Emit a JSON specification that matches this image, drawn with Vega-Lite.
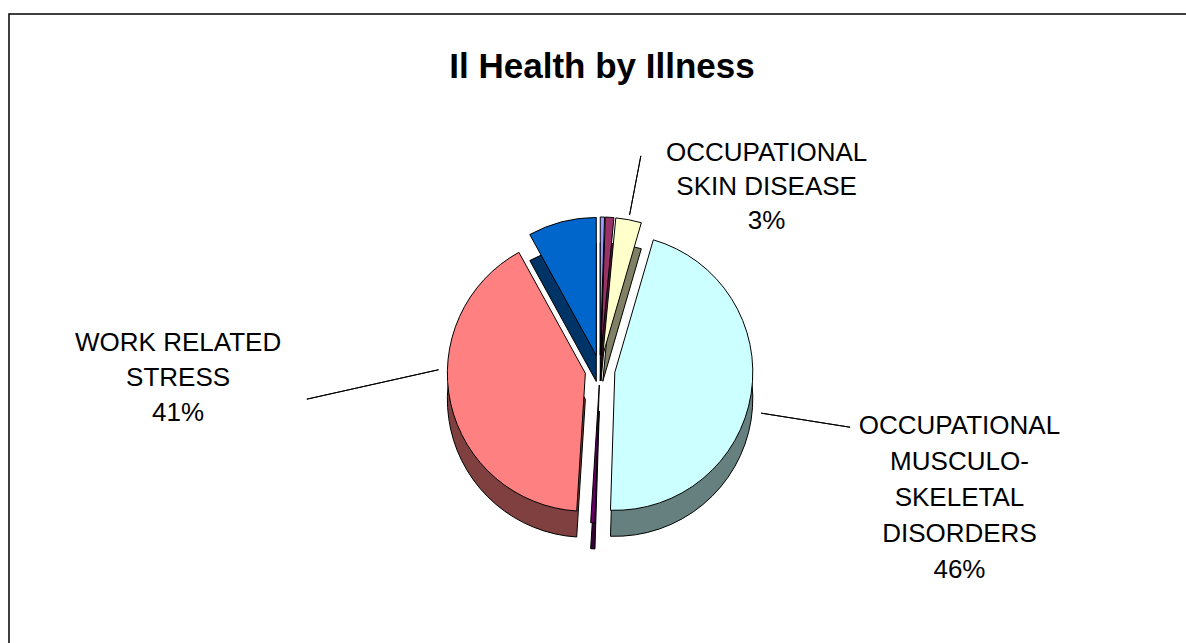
{
  "$schema": "https://vega.github.io/schema/vega-lite/v6.json",
  "autosize": "none",
  "width": 1182,
  "height": 712,
  "padding": {"left": 9, "top": 14, "right": 0, "bottom": 0},
  "background": "white",
  "config": {"view": {"stroke": null}},
  "data": {"values": [
    {"idx": 1, "name": "OCCUPATIONAL ASTHMA", "value": 0.5, "label": ""},
    {"idx": 2, "name": "OCCUPATIONAL DEAFNESS", "value": 1, "label": ""},
    {"idx": 3, "name": "OCCUPATIONAL SKIN DISEASE", "value": 3, "label": ["OCCUPATIONAL", "SKIN DISEASE", "3%"]},
    {"idx": 4, "name": "OCCUPATIONAL MUSCULO-SKELETAL DISORDERS", "value": 46, "label": ["OCCUPATIONAL", "MUSCULO-", "SKELETAL", "DISORDERS", "46%"]},
    {"idx": 5, "name": "HAND ARM VIBRATION", "value": 0.5, "label": ""},
    {"idx": 6, "name": "WORK RELATED STRESS", "value": 41, "label": ["WORK RELATED", "STRESS", "41%"]},
    {"idx": 7, "name": "OTHER", "value": 8, "label": ""}
  ]},
  "encoding": {
    "theta": {"field": "value", "type": "quantitative", "stack": true},
    "order": {"field": "idx", "type": "quantitative"}
  },
  "layer": [
    {
      "transform": [{"filter": "datum.idx == 1"}],
      "mark": {"type": "rect", "fill": null, "stroke": "black", "strokeWidth": 1.5},
      "encoding": {"theta": null, "order": null}
    },
    {
      "transform": [{"filter": "datum.idx == 1"}],
      "mark": {"type": "text", "font": "Liberation Sans", "fontSize": 35, "fontWeight": "bold", "color": "black", "align": "center", "baseline": "alphabetic", "dx": 2, "dy": -292},
      "encoding": {"theta": null, "order": null, "text": {"value": "Il Health by Illness"}}
    },
    {
      "mark": {"type": "arc", "innerRadius": 158, "outerRadius": 218, "padAngle": 3.2, "fill": null, "stroke": "black", "strokeWidth": 1},
      "encoding": {"strokeOpacity": {"condition": {"test": "datum.idx == 3", "value": 1}, "value": 0}}
    },
    {
      "mark": {"type": "arc", "innerRadius": 148, "outerRadius": 238, "padAngle": 3.2, "fill": null, "stroke": "black", "strokeWidth": 1, "xOffset": 15, "yOffset": 20},
      "encoding": {"strokeOpacity": {"condition": {"test": "datum.idx == 4", "value": 1}, "value": 0}}
    },
    {
      "mark": {"type": "arc", "innerRadius": 150, "outerRadius": 285, "padAngle": 3.2, "fill": null, "stroke": "black", "strokeWidth": 1, "xOffset": -15, "yOffset": -33},
      "encoding": {"strokeOpacity": {"condition": {"test": "datum.idx == 6", "value": 1}, "value": 0}}
    },
    {
      "mark": {"type": "arc", "outerRadius": 138, "stroke": "black", "strokeWidth": 1,
        "xOffset": {"expr": "15*sin(PI*(datum.value_start+datum.value_end)/100)"},
        "yOffset": {"expr": "-15*cos(PI*(datum.value_start+datum.value_end)/100)+26"}},
      "encoding": {
        "color": {"field": "idx", "type": "nominal", "legend": null,
          "scale": {"domain": [1,2,3,4,5,6,7], "range": ["#4C4C80", "#4D1933", "#808066", "#668080", "#330033", "#804040", "#003366"]}}
      }
    },
    {
      "mark": {"type": "arc", "outerRadius": 138, "stroke": "black", "strokeWidth": 1,
        "xOffset": {"expr": "15*sin(PI*(datum.value_start+datum.value_end)/100)"},
        "yOffset": {"expr": "-15*cos(PI*(datum.value_start+datum.value_end)/100)"}},
      "encoding": {
        "fill": {"field": "name", "type": "nominal", "legend": null,
          "scale": {"domain": ["OCCUPATIONAL ASTHMA", "OCCUPATIONAL DEAFNESS", "OCCUPATIONAL SKIN DISEASE", "OCCUPATIONAL MUSCULO-SKELETAL DISORDERS", "HAND ARM VIBRATION", "WORK RELATED STRESS", "OTHER"],
            "range": ["#9999FF", "#993366", "#FFFFCC", "#CCFFFF", "#660066", "#FF8080", "#0066CC"]}}
      }
    },
    {
      "mark": {"type": "text", "radius": 190, "dx": 131, "dy": -30, "font": "Liberation Sans", "fontSize": 26, "lineHeight": 34, "baseline": "middle", "align": "center", "color": "black"},
      "encoding": {"text": {"condition": {"test": "datum.idx == 3", "field": "label"}, "value": ""}}
    },
    {
      "mark": {"type": "text", "radius": 370, "dx": -6, "dy": -2, "font": "Liberation Sans", "fontSize": 26, "lineHeight": 36, "baseline": "middle", "align": "center", "color": "black"},
      "encoding": {"text": {"condition": {"test": "datum.idx == 4", "field": "label"}, "value": ""}}
    },
    {
      "mark": {"type": "text", "radius": 420, "dx": -12, "dy": -119, "font": "Liberation Sans", "fontSize": 26, "lineHeight": 35, "baseline": "middle", "align": "center", "color": "black"},
      "encoding": {"text": {"condition": {"test": "datum.idx == 6", "field": "label"}, "value": ""}}
    }
  ],
  "resolve": {"scale": {"color": "independent", "fill": "independent", "strokeOpacity": "independent"}}
}
